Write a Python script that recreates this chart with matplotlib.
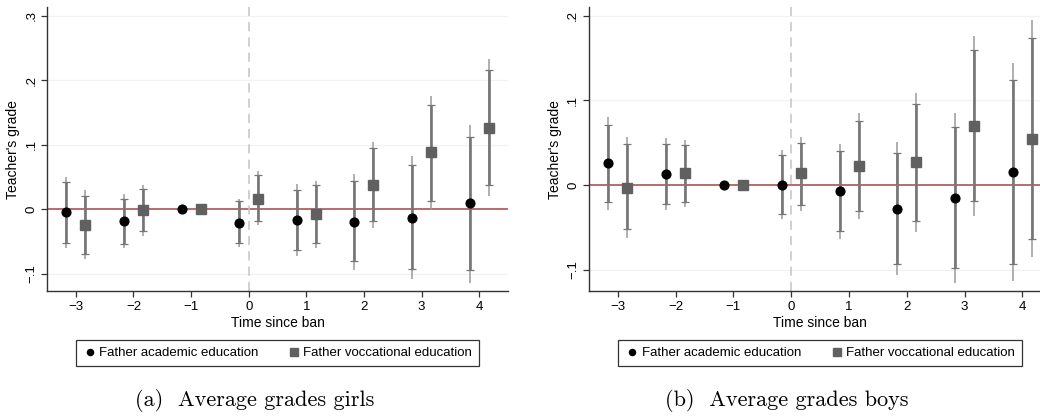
import numpy as np
import matplotlib.pyplot as plt

plt.rcParams['font.family'] = ['Liberation Sans', 'DejaVu Sans']

# event time relative to the ban
times = [-3, -2, -1, 0, 1, 2, 3, 4]

# girls: point estimate, 90% band (inner), 95% band (outer)
girls_acad = [-0.005, -0.019, 0.0, -0.021, -0.017, -0.020, -0.014, 0.009]
girls_acad_lo90 = [-0.052, -0.054, np.nan, -0.052, -0.063, -0.081, -0.093, -0.094]
girls_acad_hi90 = [0.042, 0.016, np.nan, 0.012, 0.030, 0.044, 0.068, 0.112]
girls_acad_lo95 = [-0.060, -0.060, np.nan, -0.058, -0.073, -0.094, -0.109, -0.114]
girls_acad_hi95 = [0.050, 0.023, np.nan, 0.016, 0.039, 0.055, 0.082, 0.131]

girls_voc = [-0.025, -0.002, 0.0, 0.016, -0.008, 0.038, 0.088, 0.126]
girls_voc_lo90 = [-0.069, -0.034, np.nan, -0.018, -0.053, -0.018, 0.013, 0.038]
girls_voc_hi90 = [0.021, 0.031, np.nan, 0.053, 0.037, 0.094, 0.162, 0.215]
girls_voc_lo95 = [-0.078, -0.041, np.nan, -0.024, -0.060, -0.029, -0.001, 0.021]
girls_voc_hi95 = [0.029, 0.038, np.nan, 0.059, 0.044, 0.104, 0.176, 0.232]

# boys
boys_acad = [0.026, 0.013, 0.0, 0.0, -0.007, -0.028, -0.015, 0.015]
boys_acad_lo90 = [-0.020, -0.022, np.nan, -0.034, -0.054, -0.093, -0.098, -0.093]
boys_acad_hi90 = [0.071, 0.049, np.nan, 0.035, 0.040, 0.038, 0.069, 0.124]
boys_acad_lo95 = [-0.029, -0.029, np.nan, -0.040, -0.064, -0.106, -0.115, -0.113]
boys_acad_hi95 = [0.080, 0.056, np.nan, 0.041, 0.048, 0.051, 0.085, 0.144]

boys_voc = [-0.003, 0.014, 0.0, 0.014, 0.023, 0.027, 0.070, 0.055]
boys_voc_lo90 = [-0.052, -0.020, np.nan, -0.023, -0.030, -0.042, -0.019, -0.063]
boys_voc_hi90 = [0.048, 0.047, np.nan, 0.050, 0.076, 0.096, 0.159, 0.173]
boys_voc_lo95 = [-0.062, -0.026, np.nan, -0.030, -0.040, -0.055, -0.036, -0.085]
boys_voc_hi95 = [0.057, 0.053, np.nan, 0.057, 0.085, 0.109, 0.176, 0.195]

girls_yticks = [-0.1, 0, 0.1, 0.2, 0.3]
girls_ylabels = ['\u2212.1', '0', '.1', '.2', '.3']
boys_yticks = [-0.1, 0, 0.1, 0.2]
boys_ylabels = ['\u2212.1', '0', '.1', '.2']

legend_labels = ['Father academic education', 'Father voccational education']
captions = ['(a)  Average grades girls', '(b)  Average grades boys']


def draw_series(ax, x, y, lo90, hi90, lo95, hi95, marker, color, ms):
    x = np.asarray(x, dtype=float)
    lo90, hi90 = np.asarray(lo90), np.asarray(hi90)
    lo95, hi95 = np.asarray(lo95), np.asarray(hi95)
    ok = ~np.isnan(lo90)
    ax.vlines(x[ok], lo95[ok], hi95[ok], color='#9a9a9a', lw=1.1, zorder=2)
    y = np.asarray(y)
    ax.errorbar(x[ok], y[ok], yerr=[y[ok] - lo90[ok], hi90[ok] - y[ok]],
                fmt='none', ecolor='#767676', elinewidth=1.9,
                capsize=2.6, capthick=0.9, zorder=3)
    h, = ax.plot(x, y, linestyle='none', marker=marker, color=color,
                 markersize=ms, zorder=4)
    return h


def panel(ax, acad, voc, yticks, ylabels, ylim):
    t = np.array(times)
    ax.axhline(0, color='#b25f60', lw=1.3, zorder=1)
    ax.axvline(0, color='#c4c4c4', lw=1.1, ls=(0, (6, 4)), zorder=1)
    for v in yticks:
        if v != 0:
            ax.axhline(v, color='#f2f2f2', lw=0.9, zorder=0)
    h1 = draw_series(ax, t - 0.165, *acad, marker='o', color='black', ms=6.3)
    h2 = draw_series(ax, t + 0.165, *voc, marker='s', color='#606060', ms=7.3)

    ax.set_xlim(-3.5, 4.5)
    ax.set_ylim(*ylim)
    ax.set_xticks(times)
    ax.set_xticklabels(['\u2212' + str(-v) if v < 0 else str(v) for v in times])
    ax.set_yticks(yticks)
    ax.set_yticklabels(ylabels, rotation=90, va='center')
    ax.tick_params(axis='both', direction='out', length=4, width=0.9,
                   labelsize=9.5, color='#333333', pad=3)
    for s in ['top', 'right']:
        ax.spines[s].set_visible(False)
    for s in ['left', 'bottom']:
        ax.spines[s].set_color('#333333')
        ax.spines[s].set_linewidth(1.0)
    ax.set_xlabel('Time since ban', fontsize=10, labelpad=2)
    ax.set_ylabel("Teacher's grade", fontsize=10, labelpad=4)
    leg = ax.legend([h1, h2], legend_labels, loc='upper center',
                    bbox_to_anchor=(0.5, -0.148), ncol=2, fontsize=9.5,
                    frameon=True, fancybox=False, edgecolor='black',
                    handletextpad=0.2, columnspacing=2.2, handlelength=1.0,
                    markerscale=0.7, borderpad=0.55)
    leg.get_frame().set_linewidth(0.9)


fig = plt.figure(figsize=(10.4, 4.2), dpi=100)
ax1 = fig.add_axes([0.0452, 0.307, 0.4433, 0.676])
ax2 = fig.add_axes([0.5663, 0.307, 0.4446, 0.676])

panel(ax1,
      (girls_acad, girls_acad_lo90, girls_acad_hi90, girls_acad_lo95, girls_acad_hi95),
      (girls_voc, girls_voc_lo90, girls_voc_hi90, girls_voc_lo95, girls_voc_hi95),
      girls_yticks, girls_ylabels, (-0.127, 0.313))
panel(ax2,
      (boys_acad, boys_acad_lo90, boys_acad_hi90, boys_acad_lo95, boys_acad_hi95),
      (boys_voc, boys_voc_lo90, boys_voc_hi90, boys_voc_lo95, boys_voc_hi95),
      boys_yticks, boys_ylabels, (-0.125, 0.210))

fig.text(255 / 1040, 1 - 400 / 420, captions[0], family='cmr10',
         fontsize=16, ha='center', va='center')
fig.text(787 / 1040, 1 - 400 / 420, captions[1], family='cmr10',
         fontsize=16, ha='center', va='center')

fig.savefig('out.png', dpi=100)
